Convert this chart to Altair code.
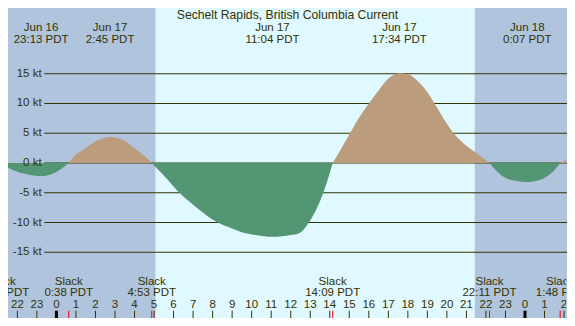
import altair as alt
import pandas as pd

# ---- data ----
# current curve: hours from Jun 17 00:00 PDT, knots (+ flood, - ebb)
hours = [-2.8, -2.48, -2.2, -1.5, -0.783, 0.0, 0.633,
         1.0, 1.5, 2.0, 2.75, 3.5, 4.0, 4.5, 4.883,
         5.5, 6.3, 7.0, 8.26, 9.0, 9.45, 10.2, 11.067, 12.0, 12.43, 12.93, 13.35, 13.67, 14.15,
         14.6, 15.0, 15.5, 16.0, 16.5, 17.0, 17.567, 18.0, 18.5, 19.0, 19.5, 20.0, 20.5, 21.0, 21.5, 22.183,
         22.5, 22.95, 23.5, 24.117, 24.7, 25.19, 25.5, 25.8,
         26.1, 26.3]
knots = [0.0, -0.8, -1.2, -1.9, -2.2, -1.5, 0.0,
         1.4, 2.5, 3.6, 4.36, 3.7, 2.5, 1.2, 0.0,
         -2.1, -5.0, -7.0, -10.0, -11.0, -11.6, -12.1, -12.4, -12.1, -11.8, -10.0, -7.5, -5.0, 0.0,
         2.5, 4.8, 7.6, 10.0, 12.2, 14.2, 15.1, 14.9, 13.8, 11.9, 9.3, 6.6, 4.4, 2.9, 1.7, 0.0,
         -1.2, -2.4, -3.0, -3.2, -2.9, -2.1, -1.2, 0.0,
         0.55, 0.9]

grid_levels = [15, 10, 5, 0, -5, -10, -15]
grid_labels = ["15 kt", "10 kt", "5 kt", "0 kt", "-5 kt", "-10 kt", "-15 kt"]

sunrise = [5.07]
sunset = [21.43]

extreme_hours = [-0.783, 2.75, 11.067, 17.567, 24.117]
extreme_dates = ["Jun 16", "Jun 17", "Jun 17", "Jun 17", "Jun 18"]
extreme_times = ["23:13 PDT", "2:45 PDT", "11:04 PDT", "17:34 PDT", "0:07 PDT"]

slack_hours = [-2.8, 0.633, 4.883, 14.15, 22.183, 25.8]
slack_times = ["21:12 PDT", "0:38 PDT", "4:53 PDT", "14:09 PDT", "22:11 PDT", "1:48 PDT"]

tick_hours = list(range(-2, 27))
tick_labels = [str(h % 24) for h in tick_hours]

title_text = "Sechelt Rapids, British Columbia Current"

# ---- styling ----
W, H = 559, 310
NIGHT = "#b0c4de"
DAY = "#e0f8ff"
FLOOD = "#bb9c7c"
EBB = "#529673"
INK = "#333300"
FONT = "Liberation Sans"
FS = 11.5

xs = alt.Scale(domain=[-2.48, 26.10], nice=False, zero=False)
ys = alt.Scale(domain=[-26.05, 26.05], nice=False, zero=False)

# build segments between slack points
rows = []
seg = 0
for i, (h, v) in enumerate(zip(hours, knots)):
    if v == 0.0 and i > 0:
        rows.append({"h": h, "v": v, "seg": seg})
        seg += 1
    rows.append({"h": h, "v": v, "seg": seg})
curve = pd.DataFrame(rows)
sign = curve.groupby("seg")["v"].apply(lambda s: "flood" if s.sum() > 0 else "ebb")
curve["kind"] = curve["seg"].map(sign)

grid = pd.DataFrame({"level": grid_levels, "label": grid_labels})
day = pd.DataFrame({"rise": sunrise, "set": sunset})
ext = pd.DataFrame({"h": extreme_hours, "date": extreme_dates, "time": extreme_times})
slk = pd.DataFrame({"h": slack_hours, "time": slack_times, "word": ["Slack"] * len(slack_hours)})
ticks = pd.DataFrame({"h": tick_hours, "label": tick_labels})
ticks["midnight"] = [h % 24 == 0 for h in tick_hours]

day_rect = alt.Chart(day).mark_rect(color=DAY, clip=True).encode(
    x=alt.X("rise:Q", scale=xs, axis=None), x2="set:Q",
    y=alt.value(0), y2=alt.value(H))

grid_rules = alt.Chart(grid).mark_rule(color=INK, strokeWidth=1).encode(
    y=alt.Y("level:Q", scale=ys, axis=None),
    x=alt.value(36.3), x2=alt.value(W))

areas = alt.Chart(curve).mark_area(interpolate="monotone", clip=True).encode(
    x=alt.X("h:Q", scale=xs, axis=None),
    y=alt.Y("v:Q", scale=ys, axis=None),
    y2=alt.datum(0),
    color=alt.Color("kind:N", scale=alt.Scale(domain=["flood", "ebb"], range=[FLOOD, EBB]), legend=None),
    detail="seg:N")

txt = dict(font=FONT, fontSize=FS, color=INK)

grid_text = alt.Chart(grid).mark_text(align="right", baseline="middle", **txt).encode(
    y=alt.Y("level:Q", scale=ys, axis=None), x=alt.value(33.6), text="label:N")

title = alt.Chart(pd.DataFrame({"t": [title_text]})).mark_text(
    align="center", baseline="alphabetic", font=FONT, fontSize=12.2, color=INK).encode(
    x=alt.value(W / 2), y=alt.value(10.5), text="t:N")

ext_date = alt.Chart(ext).mark_text(align="center", baseline="alphabetic", clip=True, **txt).encode(
    x=alt.X("h:Q", scale=xs, axis=None), y=alt.value(23.0), text="date:N")
ext_time = alt.Chart(ext).mark_text(align="center", baseline="alphabetic", clip=True, **txt).encode(
    x=alt.X("h:Q", scale=xs, axis=None), y=alt.value(34.6), text="time:N")

slk_word = alt.Chart(slk).mark_text(align="center", baseline="alphabetic", clip=True, **txt).encode(
    x=alt.X("h:Q", scale=xs, axis=None), y=alt.value(276.6), text="word:N")
slk_time = alt.Chart(slk).mark_text(align="center", baseline="alphabetic", clip=True, **txt).encode(
    x=alt.X("h:Q", scale=xs, axis=None), y=alt.value(288.4), text="time:N")

tick_rules = alt.Chart(ticks).transform_filter("!datum.midnight").mark_rule(
    color=INK, strokeWidth=1, clip=True).encode(
    x=alt.X("h:Q", scale=xs, axis=None), y=alt.value(302.7), y2=alt.value(H))
mid_rules = alt.Chart(ticks).transform_filter("datum.midnight").mark_rule(
    color="#000000", strokeWidth=3, clip=True).encode(
    x=alt.X("h:Q", scale=xs, axis=None), y=alt.value(302.7), y2=alt.value(H))
slack_rules = alt.Chart(slk).mark_rule(color="#ff0000", strokeWidth=1, clip=True).encode(
    x=alt.X("h:Q", scale=xs, axis=None), y=alt.value(302.7), y2=alt.value(H))
tick_text = alt.Chart(ticks).mark_text(align="center", baseline="alphabetic", clip=True, **txt).encode(
    x=alt.X("h:Q", scale=xs, axis=None), y=alt.value(300.2), text="label:N")

chart = alt.layer(
    day_rect, grid_rules, areas, grid_text, title, ext_date, ext_time,
    slk_word, slk_time, tick_rules, mid_rules, slack_rules, tick_text
).properties(
    width=W, height=H,
    autosize=alt.AutoSizeParams(type="fit", contains="padding"),
    padding=0,
).configure(background=NIGHT).configure_view(strokeWidth=0)

chart.save("out.html", embed_options={"renderer": "svg", "actions": False})
